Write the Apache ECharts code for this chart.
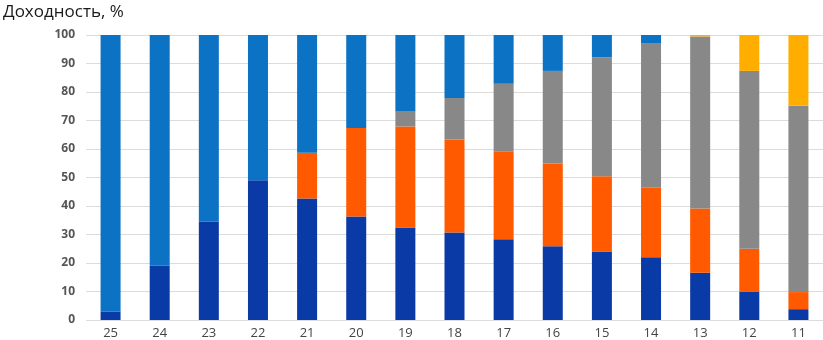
<!DOCTYPE html>
<html><head><meta charset="utf-8">
<script src="https://cdn.jsdelivr.net/npm/echarts@6/dist/echarts.min.js"></script>
<style>html,body{margin:0;padding:0;background:#fff}#c{width:823px;height:340px}</style>
</head><body><div id="c"></div>
<script>
const categories = ['25','24','23','22','21','20','19','18','17','16','15','14','13','12','11'];
// segment heights (percent)
const darkBlue  = [3, 19, 34.5, 49, 42.6, 36.3, 32.5, 30.7, 28.3, 25.9, 24, 22, 16.6, 10, 3.8];
const orange    = [0, 0, 0, 0, 16.1, 31.1, 35.4, 32.6, 30.9, 29, 26.4, 24.4, 22.5, 15, 6];
const gray      = [0, 0, 0, 0, 0, 0, 5.3, 14.6, 23.7, 32.5, 41.8, 50.6, 60.4, 62.4, 65.4];
const lightBlue = [97, 81, 65.5, 51, 41.3, 32.6, 26.8, 22.1, 17.1, 12.6, 7.8, 3, 0, 0, 0];
const yellow    = [0, 0, 0, 0, 0, 0, 0, 0, 0, 0, 0, 0, 0.5, 12.6, 24.8];
const yTicks = [0,10,20,30,40,50,60,70,80,90,100];

const chart = echarts.init(document.getElementById('c'));
const mk = (name, data, color) => ({name, type:'bar', stack:'s', data, barWidth:20,
  itemStyle:{color}, emphasis:{disabled:true}});
chart.setOption({
  animation:false,
  title:{text:'Доходность, %', left:-2, top:-1,
    textStyle:{fontFamily:'Open Sans', fontSize:17, fontWeight:'normal', color:'#1a1a1a'}},
  grid:{left:86, right:-13, top:35, bottom:19},
  xAxis:{type:'category', data:categories,
    axisLine:{show:false}, axisTick:{show:false},
    axisLabel:{color:'#444', fontFamily:'Open Sans', fontSize:13, margin:7}},
  yAxis:{type:'value', min:0, max:100, interval:10,
    axisLine:{show:false}, axisTick:{show:false},
    splitLine:{lineStyle:{color:'#dcdcdc', width:1}},
    axisLabel:{color:'#555', fontFamily:'Open Sans', fontSize:12, fontWeight:'bold', margin:11,
      formatter: v => yTicks.includes(v) ? String(v) : ''}},
  series:[
    mk('dark', darkBlue, '#0a3aa6'),
    mk('orange', orange, '#ff5a00'),
    mk('gray', gray, '#888888'),
    mk('light', lightBlue, '#0b72c4'),
    mk('yellow', yellow, '#ffae00')
  ]
});
</script></body></html>
